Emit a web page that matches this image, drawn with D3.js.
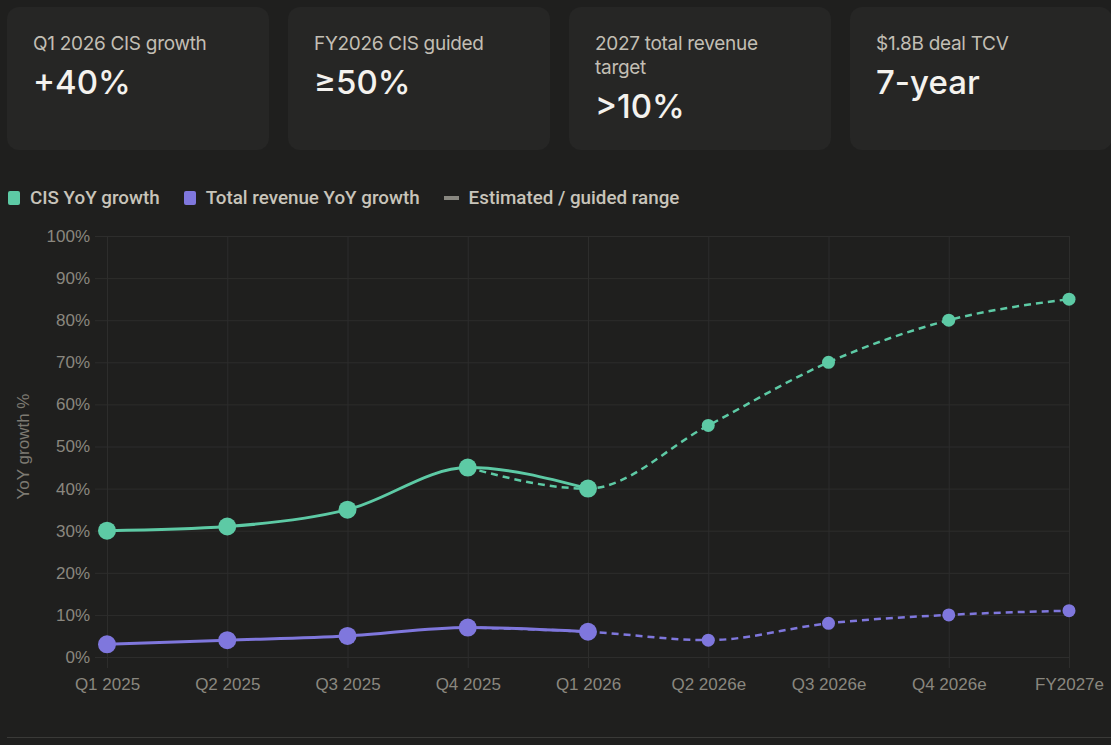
<!DOCTYPE html>
<html>
<head>
<meta charset="utf-8">
<script src="https://cdn.jsdelivr.net/npm/d3@7"></script>
<style>
  html, body { margin: 0; padding: 0; background: #1f1f1e; }
  body { width: 1111px; height: 745px; position: relative; overflow: hidden; font-family: Inter, "Noto Sans", sans-serif; }
  .card { position: absolute; top: 7px; width: 262px; height: 143px; background: #262625; border-radius: 12px; box-sizing: border-box; padding: 25px 20px 0 26px; }
  .card .lbl { color: #c2beb4; font-size: 19px; line-height: 24px; letter-spacing: -0.3px; }
  .card .val { color: #f4f2ee; font-size: 33px; line-height: 40px; margin-top: 6px; font-weight: 500; }
  .legend { position: absolute; top: 187px; left: 8px; display: flex; font-family: Roboto, sans-serif; font-weight: 500; font-size: 18.8px; color: #c8c4ba; }
  .legend .item { display: flex; align-items: center; margin-right: 24px; }
  .legend .sw { width: 12px; height: 14px; border-radius: 2px; margin-right: 10px; }
  .legend .dash { width: 15px; height: 4px; margin-right: 10px; }
  svg { position: absolute; left: 0; top: 0; }
  .bottom-rule { position: absolute; left: 7px; right: 0; top: 737px; height: 1px; background: #3a3a38; }
</style>
</head>
<body>
<script>
// headline cards
const cardLabels = ["Q1 2026 CIS growth", "FY2026 CIS guided", "2027 total revenue target", "$1.8B deal TCV"];
const cardValues = ["+40%", "\u226550%", ">10%", "7-year"];

// chart data
const quarters = ["Q1 2025", "Q2 2025", "Q3 2025", "Q4 2025", "Q1 2026", "Q2 2026e", "Q3 2026e", "Q4 2026e", "FY2027e"];
const cisActual = [30, 31, 35, 45, 40, null, null, null, null];
const revActual = [3, 4, 5, 7, 6, null, null, null, null];
const cisEstimate = [null, null, null, 45, 40, 55, 70, 80, 85];
const revEstimate = [null, null, null, 7, 6, 4, 8, 10, 11];
const yTicks = [0, 10, 20, 30, 40, 50, 60, 70, 80, 90, 100];

const legendItems = [
  { label: "CIS YoY growth", color: "#5dcaa5", kind: "box" },
  { label: "Total revenue YoY growth", color: "#7f77dd", kind: "box" },
  { label: "Estimated / guided range", color: "#888780", kind: "dash" }
];

const body = d3.select("body");

body.selectAll(".card")
  .data(cardLabels)
  .enter().append("div")
    .attr("class", "card")
    .style("left", (_, i) => (7 + i * 281) + "px")
    .each(function (d, i) {
      const c = d3.select(this);
      c.append("div").attr("class", "lbl").style("max-width", "200px").text(d);
      c.append("div").attr("class", "val").text(cardValues[i]);
    });

const legend = body.append("div").attr("class", "legend");
const li = legend.selectAll(".item").data(legendItems).enter()
  .append("div").attr("class", "item");
li.append("div")
  .attr("class", d => d.kind === "box" ? "sw" : "dash")
  .style("background", d => d.color);
li.append("span").text(d => d.label);

body.append("div").attr("class", "bottom-rule");

// chart
const margin = { left: 107, right: 1069, top: 236, bottom: 657 };
const svg = body.append("svg").attr("width", 1111).attr("height", 745);

const x = d3.scalePoint().domain(quarters).range([margin.left, margin.right]);
const y = d3.scaleLinear().domain([0, 100]).range([margin.bottom, margin.top]);

const gridColor = "#2d2d2c";
const tickColor = "#8a877f";

// y axis + horizontal grid
const yAxis = svg.append("g")
  .attr("transform", "translate(95,0)")
  .call(d3.axisLeft(y).tickValues(yTicks).tickFormat(d => d + "%")
    .tickSize(-(margin.right - 95)).tickPadding(5));
yAxis.select(".domain").remove();
yAxis.selectAll("line").attr("stroke", gridColor);
yAxis.selectAll("text").attr("fill", tickColor)
  .style("font-family", "'Liberation Sans', Arial, sans-serif").style("font-size", "17px");

// x axis + vertical grid
const xAxis = svg.append("g")
  .attr("transform", "translate(0,668)")
  .call(d3.axisBottom(x).tickSize(-(668 - margin.top)).tickPadding(10));
xAxis.select(".domain").remove();
xAxis.selectAll("line").attr("stroke", gridColor);
xAxis.selectAll("text").attr("fill", tickColor)
  .style("font-family", "'Liberation Sans', Arial, sans-serif").style("font-size", "17px");

svg.append("text")
  .attr("transform", "translate(29," + ((margin.top + margin.bottom) / 2) + ") rotate(-90)")
  .attr("text-anchor", "middle")
  .attr("fill", "#7d7a72")
  .style("font-family", "'Liberation Sans', Arial, sans-serif")
  .style("font-size", "17px")
  .text("YoY growth %");

const line = d3.line()
  .defined(d => d.v !== null)
  .x(d => x(d.q))
  .y(d => y(d.v))
  .curve(d3.curveMonotoneX);

const toPts = arr => arr.map((v, i) => ({ q: quarters[i], v: v }));

// drawn back to front: estimates under actuals
const series = [
  { values: revEstimate, color: "#7f77dd", dashed: true, r: 6.5, w: 2.5 },
  { values: cisEstimate, color: "#5dcaa5", dashed: true, r: 6.5, w: 2.5 },
  { values: revActual, color: "#7f77dd", dashed: false, r: 9, w: 3 },
  { values: cisActual, color: "#5dcaa5", dashed: false, r: 9, w: 3 }
];

for (const s of series) {
  const pts = toPts(s.values);
  svg.append("path")
    .datum(pts)
    .attr("fill", "none")
    .attr("stroke", s.color)
    .attr("stroke-width", s.w)
    .attr("stroke-dasharray", s.dashed ? "7,5" : null)
    .attr("d", line);

  svg.append("g").selectAll("circle")
    .data(pts.filter(d => d.v !== null))
    .enter().append("circle")
      .attr("cx", d => x(d.q))
      .attr("cy", d => y(d.v))
      .attr("r", s.r)
      .attr("fill", s.color);
}
</script>
</body>
</html>
